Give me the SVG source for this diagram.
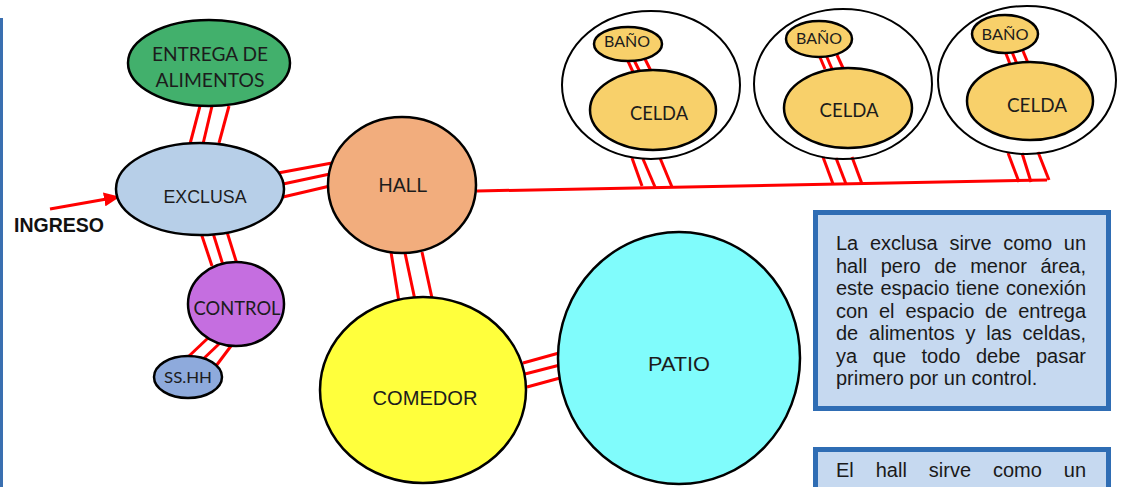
<svg xmlns="http://www.w3.org/2000/svg" width="1127" height="487" viewBox="0 0 1127 487">
<style>
.n{stroke:#000;stroke-width:2.5}
.c{stroke:#ff0000;stroke-width:3;fill:none}
.o{fill:none;stroke:#000;stroke-width:2}
.cal{font-family:Lato,"Noto Sans",sans-serif;text-anchor:middle;fill:#1c1c1c}
.ari{font-family:"Liberation Sans",Arial,sans-serif;text-anchor:middle;fill:#1c1c1c}
.cel{fill:#f8d06a}
.bx{fill:#c6d9f0;stroke:#2f6db4;stroke-width:5}
.t{font-family:"Liberation Sans",Arial,sans-serif;font-size:20px;fill:#1a1a1a}
</style>
<defs>
<marker id="arr" markerUnits="userSpaceOnUse" markerWidth="16" markerHeight="14" refX="14" refY="7" orient="auto">
<path d="M0,0 L16,7 L0,14 Z" fill="#ff0000"/>
</marker>
</defs>
<rect x="0" y="0" width="1127" height="487" fill="#fff"/>
<rect x="0" y="18" width="3" height="469" fill="#3a6fb0"/>

<g id="connectors">
<line class="c" x1="200" y1="106" x2="190" y2="144"/>
<line class="c" x1="212" y1="106" x2="203" y2="144"/>
<line class="c" x1="229" y1="106" x2="219" y2="143"/>
<line class="c" x1="278" y1="173" x2="332" y2="163"/>
<line class="c" x1="283" y1="184" x2="330" y2="174"/>
<line class="c" x1="283" y1="197" x2="330" y2="186"/>
<line class="c" x1="201" y1="233" x2="212" y2="266"/>
<line class="c" x1="213" y1="233" x2="223" y2="265"/>
<line class="c" x1="227" y1="232" x2="237" y2="264"/>
<line class="c" x1="208" y1="338" x2="188" y2="357"/>
<line class="c" x1="220" y1="343" x2="199" y2="363"/>
<line class="c" x1="231" y1="346" x2="216" y2="366"/>
<line class="c" x1="391" y1="252" x2="399" y2="302"/>
<line class="c" x1="405" y1="253" x2="415" y2="300"/>
<line class="c" x1="422" y1="252" x2="432" y2="298"/>
<line class="c" x1="523" y1="363" x2="559" y2="353"/>
<line class="c" x1="525" y1="374" x2="560" y2="365"/>
<line class="c" x1="527" y1="387" x2="560" y2="378"/>
<line class="c" x1="477" y1="191" x2="1047" y2="180"/>
<line class="c" x1="632" y1="158" x2="642" y2="186"/>
<line class="c" x1="643" y1="159" x2="655" y2="187"/>
<line class="c" x1="660" y1="158" x2="672" y2="187"/>
<line class="c" x1="823" y1="157" x2="833" y2="184"/>
<line class="c" x1="836" y1="158" x2="846" y2="184"/>
<line class="c" x1="852" y1="157" x2="862" y2="184"/>
<line class="c" x1="1008" y1="153" x2="1019" y2="182"/>
<line class="c" x1="1022" y1="153" x2="1031" y2="182"/>
<line class="c" x1="1038" y1="152" x2="1049" y2="180"/>
<line class="c" x1="627" y1="59" x2="633" y2="72"/>
<line class="c" x1="634" y1="60" x2="640" y2="72"/>
<line class="c" x1="645" y1="59" x2="651" y2="71"/>
<line class="c" x1="819" y1="55" x2="825" y2="69"/>
<line class="c" x1="826" y1="55" x2="832" y2="69"/>
<line class="c" x1="837" y1="55" x2="843" y2="68"/>
<line class="c" x1="1005" y1="51" x2="1010" y2="64"/>
<line class="c" x1="1012" y1="52" x2="1017" y2="64"/>
<line class="c" x1="1023" y1="51" x2="1028" y2="63"/>
<line class="c" x1="50" y1="209" x2="118" y2="197" marker-end="url(#arr)"/>
</g>

<g id="ingreso">
<text x="59" y="232" font-family="Liberation Sans,Arial,sans-serif" font-weight="bold" font-size="19.5" text-anchor="middle" fill="#111" textLength="90" lengthAdjust="spacingAndGlyphs">INGRESO</text>
</g>

<g id="entrega">
<ellipse class="n" cx="209" cy="63" rx="81" ry="43" fill="#42b06c"/>
<text class="cal" x="210" y="61" font-size="20" fill="#1d3a28" textLength="116" lengthAdjust="spacingAndGlyphs">ENTREGA DE</text>
<text class="cal" x="210" y="87" font-size="20" fill="#1d3a28" textLength="109" lengthAdjust="spacingAndGlyphs">ALIMENTOS</text>
</g>

<g id="exclusa">
<ellipse class="n" cx="200" cy="189" rx="84" ry="46" fill="#b7cfe8"/>
<text class="ari" x="205" y="203" font-size="19" textLength="83" lengthAdjust="spacingAndGlyphs">EXCLUSA</text>
</g>

<g id="hall">
<ellipse class="n" cx="402" cy="185" rx="74" ry="68" fill="#f2ad7d"/>
<text class="ari" x="403" y="192" font-size="20" textLength="49" lengthAdjust="spacingAndGlyphs">HALL</text>
</g>

<g id="control">
<ellipse class="n" cx="236" cy="304" rx="48" ry="42" fill="#c56ee0"/>
<text class="cal" x="237" y="315" font-size="20" fill="#3a1a48" textLength="87" lengthAdjust="spacingAndGlyphs">CONTROL</text>
</g>

<g id="sshh">
<ellipse class="n" cx="188" cy="377" rx="34" ry="21" fill="#8eaadc"/>
<text class="cal" x="188" y="383" font-size="15.5" textLength="48" lengthAdjust="spacingAndGlyphs">SS.HH</text>
</g>

<g id="comedor">
<ellipse class="n" cx="423" cy="390" rx="103" ry="93" fill="#ffff3c"/>
<text class="ari" x="425" y="405" font-size="20" textLength="105" lengthAdjust="spacingAndGlyphs">COMEDOR</text>
</g>

<g id="patio">
<ellipse class="n" cx="679" cy="358" rx="121" ry="126" fill="#80fcfc"/>
<text class="ari" x="679" y="371" font-size="20" textLength="62" lengthAdjust="spacingAndGlyphs">PATIO</text>
</g>

<g id="bloque-1"><ellipse class="o" cx="651" cy="85" rx="89" ry="74"/></g>
<g id="bano-1">
<ellipse class="n cel" cx="628" cy="44" rx="34" ry="17"/>
<text class="cal" x="627" y="47" font-size="15.5" textLength="46" lengthAdjust="spacingAndGlyphs">BAÑO</text>
</g>
<g id="celda-1">
<ellipse class="n cel" cx="653" cy="110" rx="63" ry="40"/>
<text class="cal" x="659" y="120" font-size="20" textLength="58" lengthAdjust="spacingAndGlyphs">CELDA</text>
</g>

<g id="bloque-2"><ellipse class="o" cx="843" cy="84" rx="89" ry="75"/></g>
<g id="bano-2">
<ellipse class="n cel" cx="819" cy="39" rx="33" ry="18"/>
<text class="cal" x="819" y="44" font-size="15.5" textLength="46" lengthAdjust="spacingAndGlyphs">BAÑO</text>
</g>
<g id="celda-2">
<ellipse class="n cel" cx="848" cy="108" rx="64" ry="40"/>
<text class="cal" x="849" y="117" font-size="20" textLength="59" lengthAdjust="spacingAndGlyphs">CELDA</text>
</g>

<g id="bloque-3"><ellipse class="o" cx="1027" cy="80" rx="89" ry="74"/></g>
<g id="bano-3">
<ellipse class="n cel" cx="1005" cy="34" rx="33" ry="19"/>
<text class="cal" x="1005" y="40" font-size="15.5" textLength="47" lengthAdjust="spacingAndGlyphs">BAÑO</text>
</g>
<g id="celda-3">
<ellipse class="n cel" cx="1030" cy="101" rx="63" ry="39"/>
<text class="cal" x="1037" y="112" font-size="20" textLength="60" lengthAdjust="spacingAndGlyphs">CELDA</text>
</g>

<g id="nota-1">
<rect class="bx" x="815.5" y="212.5" width="293" height="196"/>
<text class="t" y="250"><tspan x="836">La</tspan><tspan x="869.9">exclusa</tspan><tspan x="949.4">sirve</tspan><tspan x="1003.2">como</tspan><tspan x="1063.8">un</tspan></text>
<text class="t" y="272.5"><tspan x="836">hall</tspan><tspan x="880.7">pero</tspan><tspan x="934.3">de</tspan><tspan x="970.2">menor</tspan><tspan x="1040.4">área,</tspan></text>
<text class="t" y="295"><tspan x="836">este</tspan><tspan x="880.4">espacio</tspan><tspan x="956">tiene</tspan><tspan x="1006">conexión</tspan></text>
<text class="t" y="317.5"><tspan x="836">con</tspan><tspan x="879">el</tspan><tspan x="905.4">espacio</tspan><tspan x="985.1">de</tspan><tspan x="1018.2">entrega</tspan></text>
<text class="t" y="340"><tspan x="836">de</tspan><tspan x="869.1">alimentos</tspan><tspan x="965.5">y</tspan><tspan x="986.3">las</tspan><tspan x="1022.6">celdas,</tspan></text>
<text class="t" y="362.5"><tspan x="836">ya</tspan><tspan x="872.7">que</tspan><tspan x="921.5">todo</tspan><tspan x="976">debe</tspan><tspan x="1036">pasar</tspan></text>
<text class="t" x="836" y="385">primero por un control.</text>
</g>

<g id="nota-2">
<rect class="bx" x="815.5" y="449.5" width="293" height="60"/>
<text class="t" y="477"><tspan x="836">El</tspan><tspan x="875.7">hall</tspan><tspan x="928.8">sirve</tspan><tspan x="992.9">como</tspan><tspan x="1063.8">un</tspan></text>
</g>
</svg>
